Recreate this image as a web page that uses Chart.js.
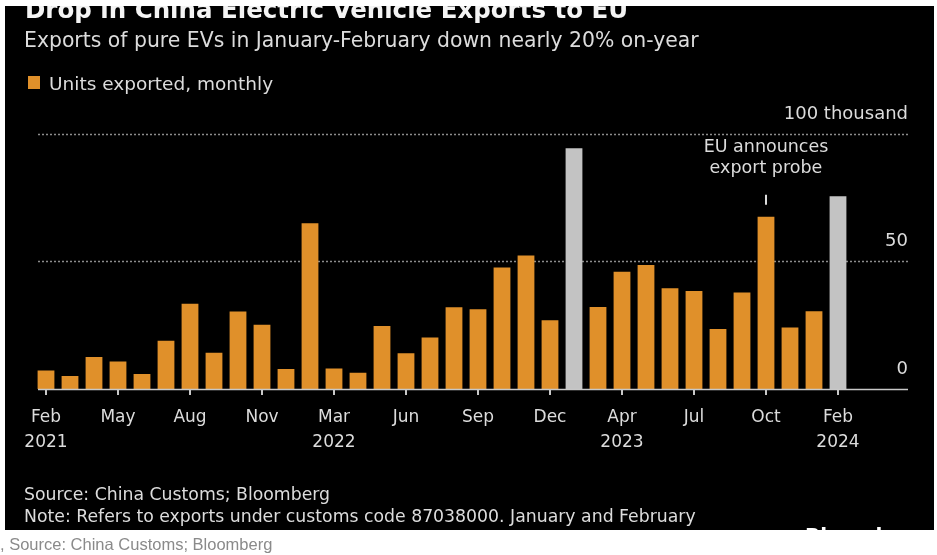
<!DOCTYPE html>
<html>
<head>
<meta charset="utf-8">
<script src="https://cdn.jsdelivr.net/npm/chart.js@4.4.1/dist/chart.umd.min.js"></script>
<style>
  body { margin: 0; width: 937px; height: 555px; background: #fff; position: relative; overflow: hidden; font-family: "DejaVu Sans", sans-serif; }
  #panel { position: absolute; left: 5px; top: 6px; width: 929px; height: 524px; background: #000; }
  #chart { position: absolute; left: 0; top: 0; }
  .txt { position: absolute; white-space: nowrap; line-height: 1; color: #dcdcdc; }
  #title { left: 25px; top: -2.4px; font-size: 24.5px; font-weight: bold; color: #f4f4f4; }
  #subtitle { left: 24px; top: 30px; font-size: 20.4px; }
  #legend { left: 49px; top: 74.5px; font-size: 18.5px; }
  #swatch { position: absolute; left: 28px; top: 76px; width: 12px; height: 13px; background: #e0902a; }
  #source { left: 24px; top: 485.5px; font-size: 17.3px; }
  #note { left: 24px; top: 508px; font-size: 17.3px; }
  #logo { left: 805px; top: 525px; font-size: 20px; font-weight: bold; color: #fff; }
  #topstrip { position: absolute; left: 0; top: 0; width: 937px; height: 6px; background: #fff; }
  #bottom { position: absolute; left: 0; top: 530px; width: 937px; height: 25px; background: #fff; }
  #credit { left: 0; top: 536px; font-size: 16.5px; color: #8a8a8a; font-family: "Liberation Sans", Arial, sans-serif; }
</style>
</head>
<body>
<div id="panel"></div>
<canvas id="chart" width="937" height="555"></canvas>
<div class="txt" id="title">Drop in China Electric Vehicle Exports to EU</div>
<div class="txt" id="subtitle">Exports of pure EVs in January-February down nearly 20% on-year</div>
<div id="swatch"></div>
<div class="txt" id="legend">Units exported, monthly</div>
<div class="txt" id="source">Source: China Customs; Bloomberg</div>
<div class="txt" id="note">Note: Refers to exports under customs code 87038000. January and February</div>
<div class="txt" id="logo">Bloomberg</div>
<div id="topstrip"></div>
<div id="bottom"></div>
<div class="txt" id="credit">, Source: China Customs; Bloomberg</div>
<script>
// January is folded into February in China customs data, so each year starts at Feb
var categories = [
  'Feb 2021', 'Mar 2021', 'Apr 2021', 'May 2021', 'Jun 2021', 'Jul 2021', 'Aug 2021', 'Sep 2021', 'Oct 2021', 'Nov 2021', 'Dec 2021',
  'Feb 2022', 'Mar 2022', 'Apr 2022', 'May 2022', 'Jun 2022', 'Jul 2022', 'Aug 2022', 'Sep 2022', 'Oct 2022', 'Nov 2022', 'Dec 2022',
  'Feb 2023', 'Mar 2023', 'Apr 2023', 'May 2023', 'Jun 2023', 'Jul 2023', 'Aug 2023', 'Sep 2023', 'Oct 2023', 'Nov 2023', 'Dec 2023',
  'Feb 2024'
];
// thousand units
var units = [
  7.2, 5.1, 12.5, 10.8, 5.9, 18.9, 33.4, 14.2, 30.3, 25.2, 7.8,
  64.9, 8.0, 6.4, 24.7, 14.0, 20.2, 32.0, 31.2, 47.6, 52.3, 26.9,
  94.2, 32.1, 45.9, 48.5, 39.4, 38.4, 23.5, 37.8, 67.4, 24.1, 30.4,
  75.4
];
var highlighted = ['Feb 2023', 'Feb 2024'];
var tickEvery = 3;
var yTicks = [0, 50, 100];
var yTickLabels = ['0', '50', '100 thousand'];
var noteAt = 'Oct 2023';
var noteLines = ['EU announces', 'export probe'];

var ORANGE = '#e0902a';
var GREY = '#c3c3c3';
var TEXT = '#dcdcdc';
var FONT = '"DejaVu Sans", sans-serif';

var colors = categories.map(function (c) {
  return highlighted.indexOf(c) >= 0 ? GREY : ORANGE;
});

var lastYear = null;
var tickLabels = categories.map(function (c, i) {
  if (i % tickEvery) return '';
  var parts = c.split(' ');
  if (parts[1] !== lastYear) {
    lastYear = parts[1];
    return [parts[0], parts[1]];
  }
  return parts[0];
});

var extras = {
  id: 'extras',
  beforeDatasetsDraw: function (chart) {
    var ctx = chart.ctx, x = chart.scales.x, y = chart.scales.y;
    var left = x.left + 4, right = 908;
    ctx.save();
    ctx.strokeStyle = '#8c8c8c';
    ctx.lineWidth = 1.5;
    ctx.setLineDash([2, 2]);
    yTicks.forEach(function (v) {
      if (v === 0) return;
      var py = Math.round(y.getPixelForValue(v)) + 0.5;
      ctx.beginPath();
      ctx.moveTo(left, py);
      ctx.lineTo(right, py);
      ctx.stroke();
    });
    ctx.setLineDash([]);
    ctx.fillStyle = TEXT;
    ctx.font = '18px ' + FONT;
    ctx.textAlign = 'right';
    ctx.textBaseline = 'middle';
    yTicks.forEach(function (v, i) {
      ctx.fillText(yTickLabels[i], right, y.getPixelForValue(v) - 19.5);
    });
    ctx.restore();
  },
  afterDatasetsDraw: function (chart) {
    var ctx = chart.ctx, x = chart.scales.x, y = chart.scales.y;
    ctx.save();
    // axis line
    var by = Math.round(y.getPixelForValue(0)) + 0.5;
    ctx.strokeStyle = '#c8c8c8';
    ctx.lineWidth = 1.5;
    ctx.beginPath();
    ctx.moveTo(x.left + 4, by);
    ctx.lineTo(908, by);
    ctx.stroke();
    // annotation
    var idx = categories.indexOf(noteAt);
    var px = x.getPixelForValue(idx);
    var top = y.getPixelForValue(units[idx]);
    ctx.strokeStyle = TEXT;
    ctx.lineWidth = 2;
    ctx.beginPath();
    ctx.moveTo(px, top - 22);
    ctx.lineTo(px, top - 12);
    ctx.stroke();
    ctx.fillStyle = TEXT;
    ctx.font = '17.5px ' + FONT;
    ctx.textAlign = 'center';
    ctx.textBaseline = 'alphabetic';
    ctx.fillText(noteLines[0], px, top - 65);
    ctx.fillText(noteLines[1], px, top - 43.4);
    ctx.restore();
  }
};

new Chart(document.getElementById('chart'), {
  type: 'bar',
  data: {
    labels: categories,
    datasets: [{
      label: 'Units exported, monthly',
      data: units,
      backgroundColor: colors,
      barPercentage: 0.7,
      categoryPercentage: 1
    }]
  },
  options: {
    responsive: false,
    animation: false,
    devicePixelRatio: 1,
    layout: { padding: { left: 34, right: 87, top: 133.5, bottom: 90 } },
    plugins: { legend: { display: false }, tooltip: { enabled: false } },
    scales: {
      x: {
        border: { display: false },
        grid: {
          offset: false,
          drawOnChartArea: false,
          tickLength: 6,
          lineWidth: 2,
          color: function (c) { return c.index % tickEvery ? 'rgba(0,0,0,0)' : '#c8c8c8'; }
        },
        ticks: {
          autoSkip: false,
          maxRotation: 0,
          padding: 10,
          color: TEXT,
          font: { family: FONT, size: 17, lineHeight: 1.47 },
          callback: function (v, i) { return tickLabels[i]; }
        }
      },
      y: {
        display: false,
        min: 0,
        max: 100
      }
    }
  },
  plugins: [extras]
});
</script>
</body>
</html>
